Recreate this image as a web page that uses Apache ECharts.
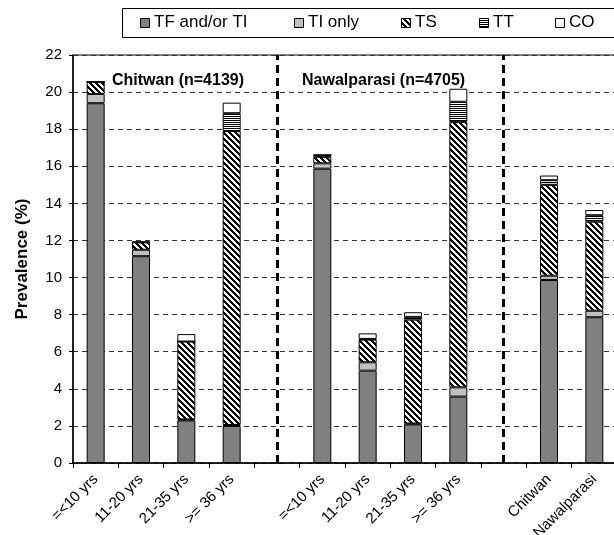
<!DOCTYPE html>
<html>
<head>
<meta charset="utf-8">
<script src="https://cdn.jsdelivr.net/npm/echarts@6/dist/echarts.min.js"></script>
<style>
html,body{margin:0;padding:0;background:#fff;}
#c{width:614px;height:535px;}
</style>
</head>
<body>
<div id="c"></div>
<script>
var categories = ['=<10 yrs','11-20 yrs','21-35 yrs','>= 36 yrs','','=<10 yrs','11-20 yrs','21-35 yrs','>= 36 yrs','','Chitwan','Nawalparasi'];
var seriesNames = ['TF and/or TI','TI only','TS','TT','CO'];
var tfValues = [19.4, 11.15, 2.3, 2.0, null, 15.87, 4.98, 2.08, 3.58, null, 9.87, 7.86];
var tiValues = [0.5, 0.35, 0.05, 0.05, null, 0.29, 0.45, 0.05, 0.5, null, 0.23, 0.35];
var tsValues = [0.65, 0.4, 4.2, 15.85, null, 0.35, 1.22, 5.6, 14.3, null, 4.9, 4.8];
var ttValues = [0, 0, 0, 0.96, null, 0.1, 0.04, 0.15, 1.1, null, 0.25, 0.35];
var coValues = [0, 0.03, 0.4, 0.57, null, 0, 0.3, 0.25, 0.7, null, 0.25, 0.28];
var yTicks = {min: 0, max: 22, interval: 2};
var separators = [4, 9];
var regionLabels = ['Chitwan (n=4139)', 'Nawalparasi (n=4705)'];

function makePattern(kind) {
  var s = 6;
  var cv = document.createElement('canvas');
  cv.width = s; cv.height = s;
  var ctx = cv.getContext('2d');
  var img = ctx.createImageData(s, s);
  for (var y = 0; y < s; y++) {
    for (var x = 0; x < s; x++) {
      var black;
      if (kind === 'diag') black = (((x - y) % s) + s) % s < 3;
      else black = (y % 2) === 0;
      var i = (y * s + x) * 4;
      var v = black ? 0 : 255;
      img.data[i] = v; img.data[i+1] = v; img.data[i+2] = v; img.data[i+3] = 255;
    }
  }
  ctx.putImageData(img, 0, 0);
  return {image: cv, repeat: 'repeat'};
}

var colors = ['#808080', '#c0c0c0', makePattern('diag'), makePattern('horiz'), '#ffffff'];
var dataSets = [tfValues, tiValues, tsValues, ttValues, coValues];

var series = dataSets.map(function (d, i) {
  var s = {
    name: seriesNames[i],
    type: 'bar',
    stack: 'all',
    data: d,
    barWidth: 18,
    itemStyle: {color: colors[i], borderColor: '#000', borderWidth: 1},
    emphasis: {disabled: true}
  };
  if (i === 0) {
    s.markLine = {
      silent: true,
      symbol: 'none',
      label: {show: false},
      lineStyle: {color: '#000', width: 3, type: [8, 5]},
      data: separators.map(function (k) { return {xAxis: k}; })
    };
  }
  return s;
});

var legendLefts = [140, 294, 401, 479, 555];
var legends = seriesNames.map(function (n, i) {
  return {
    data: [n],
    left: legendLefts[i],
    top: 14,
    padding: 0,
    icon: 'rect',
    itemWidth: 10,
    itemHeight: 10,
    itemGap: 0,
    selectedMode: false,
    itemStyle: {opacity: 0},
    textStyle: {fontFamily: 'Liberation Sans, Arial', fontSize: 17, color: '#000', padding: [0, 0, 0, -2]}
  };
});

var legendIcons = seriesNames.map(function (n, i) {
  return {type: 'rect', shape: {x: legendLefts[i] + 0.5, y: 18.5, width: 9, height: 9},
          style: {fill: colors[i], stroke: '#000', lineWidth: 1}, z: 10};
});

var chart = echarts.init(document.getElementById('c'), null, {renderer: 'canvas'});
chart.setOption({
  animation: false,
  backgroundColor: '#fff',
  legend: legends,
  grid: {left: 73, right: -3, top: 55, bottom: 72, show: true, borderColor: '#000', borderWidth: 1, containLabel: false, outerBoundsMode: 'none'},
  xAxis: {
    type: 'category',
    data: categories,
    axisLine: {lineStyle: {color: '#000', width: 1.5}},
    axisTick: {show: true, length: 5, lineStyle: {color: '#000'}, interval: 0},
    axisLabel: {interval: 0, rotate: 45, fontFamily: 'Liberation Sans, Arial', fontSize: 15, color: '#000', margin: 14}
  },
  yAxis: {
    type: 'value',
    min: yTicks.min, max: yTicks.max, interval: yTicks.interval,
    name: 'Prevalence (%)',
    nameLocation: 'middle',
    nameGap: 42,
    nameTextStyle: {fontFamily: 'Liberation Sans, Arial', fontSize: 17, fontWeight: 'bold', color: '#000'},
    axisLine: {show: true, lineStyle: {color: '#000', width: 1.5}},
    axisTick: {show: true, length: 4, lineStyle: {color: '#000'}},
    axisLabel: {fontFamily: 'Liberation Sans, Arial', fontSize: 15, color: '#000', margin: 11},
    splitLine: {show: true, lineStyle: {color: '#333', type: [5, 4], width: 1}}
  },
  graphic: [
    {type: 'rect', shape: {x: 122.5, y: 8.5, width: 500, height: 29}, style: {fill: 'none', stroke: '#000', lineWidth: 1}, z: 0},
    {type: 'text', x: 112, y: 73, style: {text: regionLabels[0], font: 'bold 16px Liberation Sans, Arial', fill: '#000'}},
    {type: 'text', x: 302, y: 73, style: {text: regionLabels[1], font: 'bold 16px Liberation Sans, Arial', fill: '#000'}}
  ].concat(legendIcons),
  series: series
});
</script>
</body>
</html>
